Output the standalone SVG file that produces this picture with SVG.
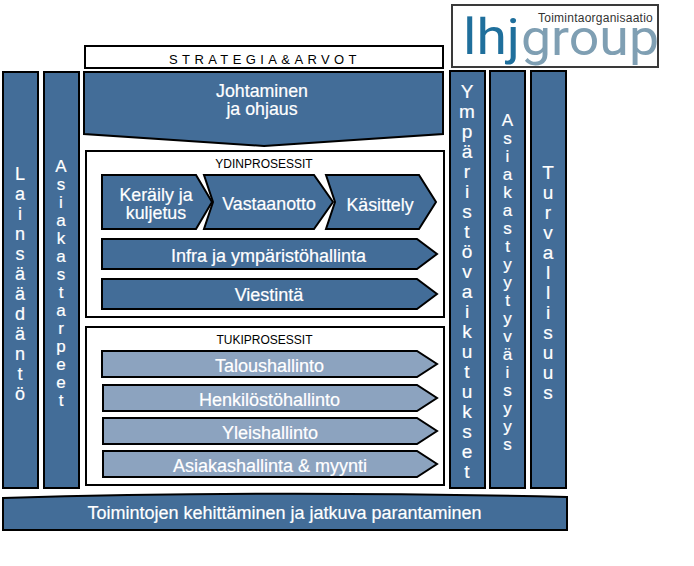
<svg xmlns="http://www.w3.org/2000/svg" width="694" height="566" viewBox="0 0 694 566">
<style>
.b{fill:#436d98;stroke:#000;stroke-width:2}
.l{fill:#8ca3bf;stroke:#000;stroke-width:2}
.w{fill:#fff;stroke:#000;stroke-width:2}
text{font-family:"Liberation Sans",Arial,sans-serif;text-anchor:middle}
.t,.t18,.v17,.v18,.v19{fill:#fff;stroke:#fff;stroke-width:.2}
.t{font-size:17.8px}
.t18{font-size:18px}
.v17{font-size:17px}
.v18{font-size:18px}
.v19{font-size:19px}
.k{fill:#000;font-size:12px}
.logo{font-family:Roboto,"Liberation Sans",sans-serif;font-size:50px;font-weight:400;text-anchor:start}
</style>
<g id="logo"><rect x="452" y="5" width="206" height="62" fill="#fff" stroke="#3a3a3a" stroke-width="2"/>
<text class="logo" x="463" y="54" fill="#1f6f9c" textLength="57" lengthAdjust="spacingAndGlyphs">lhj</text>
<text class="logo" x="521" y="55" fill="#7f9fb3" textLength="138" lengthAdjust="spacingAndGlyphs">group</text>
<text x="595.5" y="22" fill="#333" style="font-size:12px;letter-spacing:.25px">Toimintaorganisaatio</text></g>
<g id="strategia"><rect class="w" x="85" y="46" width="358" height="22"/><text class="k" x="265" y="64" style="font-size:13px;letter-spacing:4.4px">STRATEGIA&amp;ARVOT</text></g>
<g id="johtaminen"><path class="b" d="M84 72H443V134L264 146 84 134Z"/><text class="t" x="262" y="97">Johtaminen</text><text class="t" x="262" y="115">ja ohjaus</text></g>
<g id="ydin"><rect class="w" x="86" y="151" width="358" height="166"/><text class="k" x="264" y="168">YDINPROSESSIT</text></g>
<g id="tuki"><rect class="w" x="86" y="327" width="358" height="158"/><text class="k" x="264.500" y="344">TUKIPROSESSIT</text></g>
<g id="kerailyn"><path class="b" d="M102 175H196L212 202 196 229H102Z"/><text class="t" x="156" y="201">Keräily ja</text><text class="t" x="156" y="219">kuljetus</text></g>
<g id="vastaanotto"><path class="b" d="M204 175H314L333 202 314 229H204L213 202Z"/><text class="t" x="269" y="210">Vastaanotto</text></g>
<g id="kasittely"><path class="b" d="M326 175H419L436 202 419 229H326L335 202Z"/><text class="t" x="380" y="211">Käsittely</text></g>
<g id="infra"><path class="b" d="M102 239H417L437 254 417 269H102Z"/><text class="t18" x="268.500" y="262">Infra ja ympäristöhallinta</text></g>
<g id="viestinta"><path class="b" d="M102 279H417L437 294 417 309H102Z"/><text class="t18" x="269" y="301">Viestintä</text></g>
<g id="talous"><path class="l" d="M102 351H417L437 364 417 377H102Z"/><text class="t18" x="269.500" y="372">Taloushallinto</text></g>
<g id="henkilosto"><path class="l" d="M103 385H417L437 398 417 411H103Z"/><text class="t18" x="269.500" y="406">Henkilöstöhallinto</text></g>
<g id="yleis"><path class="l" d="M103 418H417L437 431 417 444H103Z"/><text class="t18" x="270" y="439">Yleishallinto</text></g>
<g id="asiakashallinta"><path class="l" d="M103 451H417L437 464 417 477H103Z"/><text class="t18" x="270" y="472">Asiakashallinta &amp; myynti</text></g>
<g id="lainsaadanto"><rect class="b" x="3" y="72" width="35" height="416"/><g class="v18"><text x="20" y="180">L</text><text x="20" y="200">a</text><text x="20" y="220">i</text><text x="20" y="240">n</text><text x="20" y="260">s</text><text x="20" y="280">ä</text><text x="20" y="300">ä</text><text x="20" y="320">d</text><text x="20" y="340">ä</text><text x="20" y="360">n</text><text x="20" y="380">t</text><text x="20" y="400">ö</text></g></g>
<g id="asiakastarpeet"><rect class="b" x="44" y="72" width="35" height="416"/><g class="v17"><text x="61" y="172">A</text><text x="61" y="190">s</text><text x="61" y="208">i</text><text x="61" y="226">a</text><text x="61" y="244">k</text><text x="61" y="262">a</text><text x="61" y="280">s</text><text x="61" y="298">t</text><text x="61" y="316">a</text><text x="61" y="334">r</text><text x="61" y="352">p</text><text x="61" y="370">e</text><text x="61" y="388">e</text><text x="61" y="406">t</text></g></g>
<g id="ymparisto"><rect class="b" x="450" y="71" width="35" height="417"/><g class="v19"><text x="467" y="98">Y</text><text x="467" y="118">m</text><text x="467" y="138">p</text><text x="467" y="158">ä</text><text x="467" y="178">r</text><text x="467" y="198">i</text><text x="467" y="218">s</text><text x="467" y="238">t</text><text x="467" y="258">ö</text><text x="467" y="278">v</text><text x="467" y="298">a</text><text x="467" y="318">i</text><text x="467" y="338">k</text><text x="467" y="358">u</text><text x="467" y="378">t</text><text x="467" y="398">u</text><text x="467" y="418">k</text><text x="467" y="438">s</text><text x="467" y="458">e</text><text x="467" y="478">t</text></g></g>
<g id="asiakastyytyvaisyys"><rect class="b" x="490" y="71" width="35" height="417"/><g class="v17"><text x="507.500" y="126">A</text><text x="507.500" y="144">s</text><text x="507.500" y="162">i</text><text x="507.500" y="180">a</text><text x="507.500" y="198">k</text><text x="507.500" y="216">a</text><text x="507.500" y="234">s</text><text x="507.500" y="252">t</text><text x="507.500" y="270">y</text><text x="507.500" y="288">y</text><text x="507.500" y="306">t</text><text x="507.500" y="324">y</text><text x="507.500" y="342">v</text><text x="507.500" y="360">ä</text><text x="507.500" y="378">i</text><text x="507.500" y="396">s</text><text x="507.500" y="414">y</text><text x="507.500" y="432">y</text><text x="507.500" y="450">s</text></g></g>
<g id="turvallisuus"><rect class="b" x="531" y="71" width="35" height="417"/><g class="v19"><text x="548" y="179">T</text><text x="548" y="199">u</text><text x="548" y="219">r</text><text x="548" y="239">v</text><text x="548" y="259">a</text><text x="548" y="279">l</text><text x="548" y="299">l</text><text x="548" y="319">i</text><text x="548" y="339">s</text><text x="548" y="359">u</text><text x="548" y="379">u</text><text x="548" y="399">s</text></g></g>
<g id="kehittaminen"><path class="b" d="M3 498Q267 490 567 497V530H3Z"/><text class="t18" x="284.500" y="519">Toimintojen kehittäminen ja jatkuva parantaminen</text></g>
</svg>
